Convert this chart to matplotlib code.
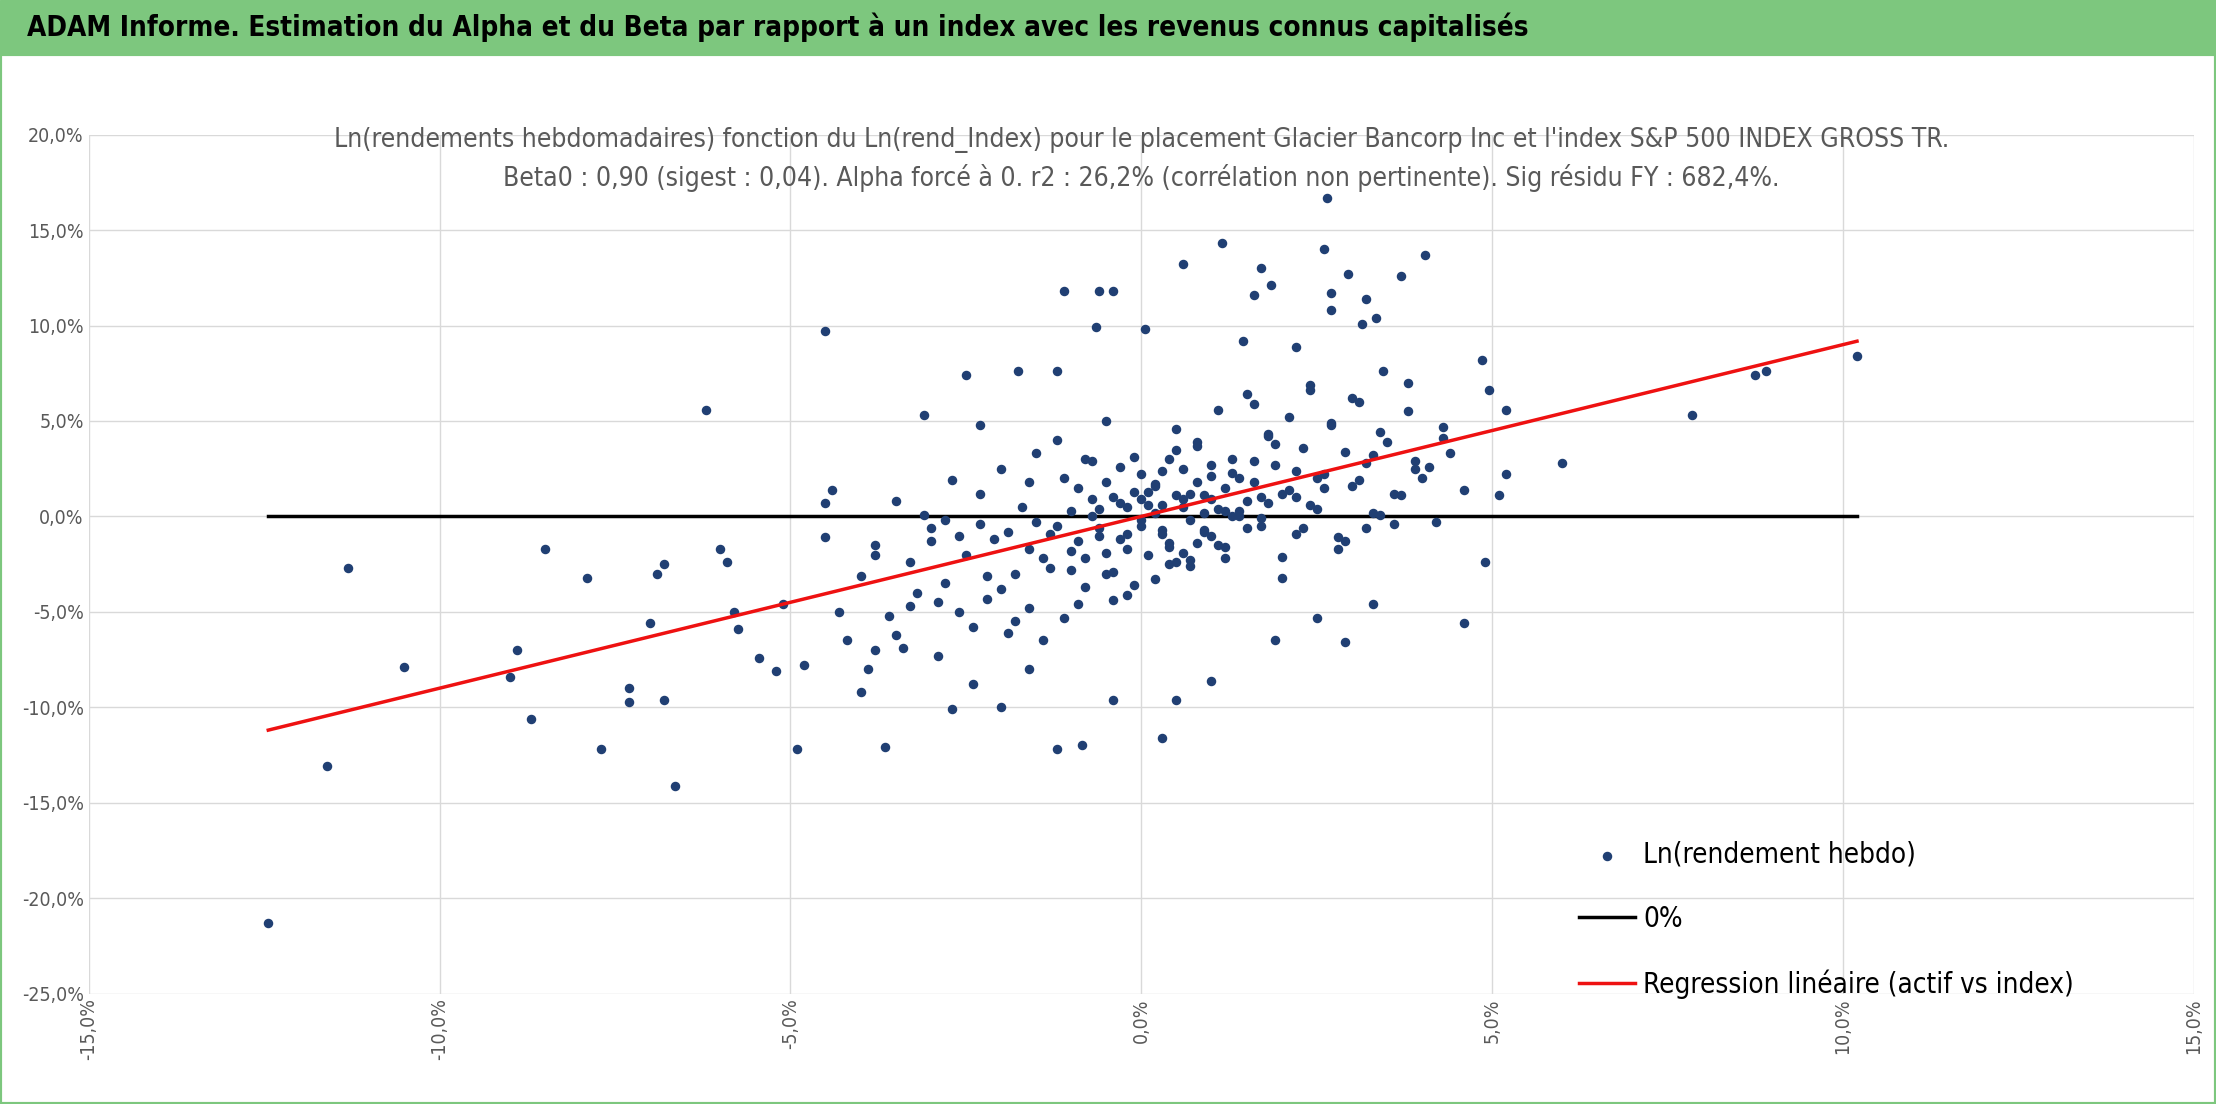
import matplotlib
matplotlib.use("Agg")
import matplotlib.pyplot as plt
from matplotlib.ticker import FuncFormatter

# (index weekly log return %, asset weekly log return %)
outliers = [(-12.44, -21.3), (-11.6, -13.1), (-11.3, -2.7), (-10.5, -7.9), (-8.9, -7.0), (-8.7, -10.6),
            (-9.0, -8.4), (-8.5, -1.7), (-7.9, -3.2), (-7.7, -12.2), (-7.3, -9.0), (-7.3, -9.7), (-7.0, -5.6),
            (-6.9, -3.0), (-6.8, -2.5), (-6.8, -9.6), (-6.65, -14.1), (-6.2, 5.6), (-6.0, -1.7), (-5.9, -2.4),
            (-5.8, -5.0), (-5.75, -5.9), (-5.45, -7.4), (-5.2, -8.1), (-4.5, 9.7), (-4.9, -12.2), (-4.5, -1.1),
            (-4.5, 0.7), (-4.4, 1.4), (-3.65, -12.1), (-3.1, 5.3), (-2.5, 7.4), (-2.3, 4.8), (-1.75, 7.6),
            (-1.2, -12.2), (-1.1, 11.8), (-1.2, 7.6), (-0.85, -12.0), (-0.65, 9.9), (-0.6, 11.8), (-0.4, 11.8),
            (0.05, 9.8), (0.3, -11.6), (0.5, -9.6), (0.6, 13.2), (1.0, -8.6), (1.15, 14.3), (1.45, 9.2),
            (1.6, 11.6), (1.7, 13.0), (1.85, 12.1), (2.2, 8.9), (2.6, 14.0), (2.65, 16.7), (2.7, 10.8),
            (2.7, 11.7), (2.95, 12.7), (3.15, 10.1), (3.2, 11.4), (3.35, 10.4), (3.7, 12.6), (4.05, 13.7),
            (4.6, -5.6), (4.85, 8.2), (4.9, -2.4), (6.0, 2.8), (7.85, 5.3), (8.75, 7.4), (8.9, 7.6), (10.2, 8.4),
            (4.95, 6.6), (5.2, 5.6), (5.2, 2.2), (5.1, 1.1), (3.8, 7.0), (3.45, 7.6), (-5.1, -4.6), (-4.8, -7.8),
            (-4.3, -5.0), (-4.0, -9.2), (-3.8, -7.0), (-2.7, -10.1), (-2.0, -10.0), (-1.6, -8.0), (-0.4, -9.6),
            (2.9, -6.6), (3.3, -4.6), (1.9, -6.5), (2.5, -5.3)]
cloud = [(-4.2, -6.5), (-4.0, -3.1), (-3.9, -8.0), (-3.8, -1.5), (-3.6, -5.2), (-3.5, 0.8), (-3.4, -6.9),
         (-3.3, -2.4), (-3.2, -4.0), (-3.0, -0.6), (-2.9, -7.3), (-2.8, -3.5), (-2.7, 1.9), (-2.6, -5.0),
         (-2.5, -2.0), (-2.4, -8.8), (-2.3, -0.4), (-2.2, -4.3), (-2.1, -1.2), (-2.0, 2.5), (-1.9, -6.1),
         (-1.8, -3.0), (-1.7, 0.5), (-1.6, -4.8), (-1.5, 3.3), (-1.4, -2.2), (-1.3, -0.9), (-1.2, 4.0),
         (-1.1, -5.3), (-1.0, -1.8), (-0.9, 1.5), (-0.8, -3.7), (-0.7, 2.9), (-0.6, -1.0), (-0.5, 5.0),
         (-0.4, -2.9), (-0.3, 0.7), (-0.2, -4.1), (-0.1, 3.1), (0.0, -0.2), (0.1, 1.3), (0.2, -3.3),
         (0.3, 2.4), (0.4, -1.4), (0.5, 4.6), (0.6, 0.9), (0.7, -2.6), (0.8, 3.7), (0.9, -0.8), (1.0, 2.1),
         (1.1, 5.6), (1.2, -1.6), (1.3, 3.0), (1.4, 0.3), (1.5, 6.4), (1.6, 1.8), (1.7, -0.5), (1.8, 4.2),
         (1.9, 2.7), (2.0, -2.1), (2.1, 5.2), (2.2, 1.0), (2.3, 3.6), (2.4, 6.9), (2.5, 0.4), (2.6, 2.2),
         (2.7, 4.9), (2.8, -1.1), (2.9, 3.4), (3.0, 1.6), (3.1, 6.0), (3.2, 2.8), (3.3, 0.2), (3.4, 4.4),
         (3.5, 3.9), (3.6, 1.2), (3.8, 5.5), (4.0, 2.0), (4.2, -0.3), (4.4, 3.3), (4.6, 1.4), (4.3, 4.7),
         (4.1, 2.6),
         (-3.8, -2.0), (-3.5, -6.2), (-3.1, 0.1), (-2.9, -4.5), (-2.6, -1.0), (-2.3, 1.2), (-2.0, -3.8),
         (-1.8, -5.5), (-1.5, -0.3), (-1.3, -2.7), (-1.1, 2.0), (-0.9, -4.6), (-0.7, 0.0), (-0.5, -1.9),
         (-0.3, 2.6), (-0.1, -3.6), (0.1, 0.6), (0.3, -0.7), (0.5, 3.5), (0.7, -2.3), (0.9, 1.1), (1.1, -1.5),
         (1.3, 2.3), (1.5, 0.8), (1.7, -0.1), (1.9, 3.8), (2.1, 1.4), (2.3, -0.6), (2.5, 2.0), (2.7, 4.8),
         (2.9, -1.3), (3.1, 1.9), (3.3, 3.2), (3.6, -0.4), (3.9, 2.5), (4.3, 4.1),
         (-3.3, -4.7), (-2.8, -0.2), (-2.2, -3.1), (-1.6, 1.8), (-1.0, -2.8), (-0.6, 0.4), (-0.2, -1.7),
         (0.2, 1.7), (0.6, -1.9), (1.0, 2.7), (1.4, 0.0), (1.8, 4.3), (2.2, -0.9), (2.6, 1.5), (3.0, 6.2),
         (3.4, 0.1), (3.9, 2.9),
         (-3.0, -1.3), (-2.4, -5.8), (-1.9, -0.8), (-1.4, -6.5), (-0.8, 3.0), (-0.4, -4.4), (0.0, 2.2),
         (0.4, -2.5), (0.8, 3.9), (1.2, -2.2), (1.6, 5.9), (2.0, -3.2), (2.4, 6.6), (2.8, -1.7), (3.2, -0.6),
         (3.7, 1.1),
         (-0.3, -1.2), (0.0, -0.5), (0.3, 0.6), (0.5, -2.4), (0.8, 1.8), (1.0, -1.0), (1.2, 0.3), (0.2, 1.6),
         (-0.5, -3.0), (-0.7, 0.9), (0.6, 2.5), (0.9, -0.7), (1.3, 0.0), (-0.1, 1.3), (0.4, -1.6),
         (-0.2, 0.5), (0.1, -2.0), (0.7, 1.2), (1.1, 0.4), (1.4, 2.0), (-0.4, 1.0), (0.3, -0.9), (0.9, 0.2),
         (-0.6, -0.6), (-0.2, -0.9), (0.2, 0.2), (0.6, 0.5), (1.0, 0.9), (1.2, 1.5), (1.5, -0.6), (1.8, 0.7),
         (2.0, 1.2), (-0.9, -1.3), (-1.2, -0.5), (-0.5, 1.8), (0.4, 3.0), (0.8, -1.4), (1.6, 2.9), (2.2, 2.4),
         (-1.6, -1.7), (-1.0, 0.3), (0.0, 0.9), (0.5, 1.1), (1.7, 1.0), (2.4, 0.6), (-0.8, -2.2), (0.7, -0.2)]

idx = [p[0] for p in outliers + cloud]
asset = [p[1] for p in outliers + cloud]

beta = 0.90
x_min, x_max = -12.44, 10.2

narrow = dict(family="DejaVu Sans", stretch="condensed")

fig = plt.figure(figsize=(22.16, 11.04), dpi=100)
fig.patches.append(plt.Rectangle((0, 0.951), 1, 0.049, transform=fig.transFigure, color="#7dc77e", zorder=0))
fig.patches.append(plt.Rectangle((0, 0), 1, 0.951, transform=fig.transFigure, fill=False,
                                 edgecolor="#7dc77e", lw=3, zorder=0))
fig.text(0.012, 0.975, "ADAM Informe. Estimation du Alpha et du Beta par rapport à un index avec les revenus connus capitalisés",
         fontsize=20, fontweight="bold", va="center", **narrow)

ax = fig.add_axes([0.040, 0.100, 0.950, 0.778])
ax.scatter(idx, asset, s=34, color="#203f73", zorder=3, label="Ln(rendement hebdo)")
ax.plot([x_min, x_max], [0, 0], color="black", lw=2.5, zorder=2, label="0%")
ax.plot([x_min, x_max], [beta * x_min, beta * x_max], color="#ee1111", lw=2.5, zorder=4,
        label="Regression linéaire (actif vs index)")

ax.set_xlim(-15, 15)
ax.set_ylim(-25, 20)
ax.set_xticks(range(-15, 16, 5))
ax.set_yticks(range(-25, 21, 5))
fmt = FuncFormatter(lambda v, p: f"{v:.1f}%".replace(".", ","))
ax.xaxis.set_major_formatter(fmt)
ax.yaxis.set_major_formatter(fmt)
ax.tick_params(axis="x", rotation=90, labelsize=14, length=0, colors="#595959")
ax.tick_params(axis="y", labelsize=14, length=0, colors="#595959")
for lab in ax.get_xticklabels() + ax.get_yticklabels():
    lab.set_fontstretch("condensed")
ax.grid(True, color="#d9d9d9", lw=1)
ax.set_axisbelow(True)
for s in ax.spines.values():
    s.set_visible(False)

ax.set_title("Ln(rendements hebdomadaires) fonction du Ln(rend_Index) pour le placement Glacier Bancorp Inc et l'index S&P 500 INDEX GROSS TR.\n"
             "Beta0 : 0,90 (sigest : 0,04). Alpha forcé à 0. r2 : 26,2% (corrélation non pertinente). Sig résidu FY : 682,4%.",
             fontsize=19, color="#595959", y=0.93, linespacing=1.5, **narrow)

ax.legend(loc="lower right", bbox_to_anchor=(0.955, -0.035), frameon=False,
          prop={"family": "DejaVu Sans", "stretch": "condensed", "size": 20}, labelspacing=1.3,
          handlelength=2.0, handletextpad=0.3)

plt.savefig("out.png", dpi=100)
